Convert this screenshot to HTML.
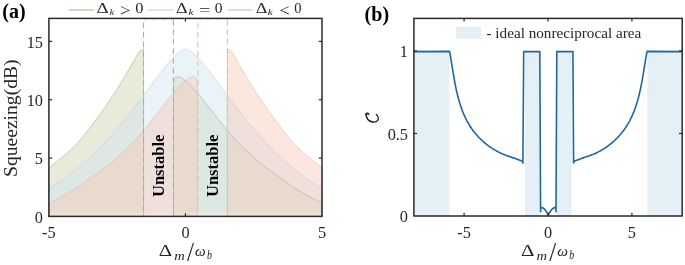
<!DOCTYPE html>
<html><head><meta charset="utf-8"><style>
html,body{margin:0;padding:0;background:#fff;width:685px;height:265px;overflow:hidden}
svg{display:block;will-change:transform}
text{font-family:"Liberation Serif",serif}
</style></head><body>
<svg width="685" height="265" viewBox="0 0 685 265">
<rect width="685" height="265" fill="#fff"/>
<polygon points="48.9,216.4 48.9,167.8 49.38,167.44 49.85,167.07 50.33,166.7 50.8,166.34 51.28,165.97 51.75,165.6 52.23,165.22 52.7,164.85 53.18,164.47 53.65,164.09 54.13,163.71 54.6,163.32 55.08,162.93 55.56,162.54 56.03,162.16 56.51,161.77 56.98,161.38 57.46,160.99 57.93,160.6 58.41,160.22 58.88,159.83 59.36,159.44 59.83,159.05 60.31,158.66 60.78,158.27 61.26,157.88 61.74,157.49 62.21,157.09 62.69,156.7 63.16,156.3 63.64,155.9 64.11,155.5 64.59,155.1 65.06,154.7 65.54,154.29 66.01,153.88 66.49,153.47 66.96,153.06 67.44,152.64 67.92,152.22 68.39,151.79 68.87,151.37 69.34,150.94 69.82,150.5 70.29,150.07 70.77,149.63 71.24,149.18 71.72,148.73 72.19,148.28 72.67,147.82 73.14,147.36 73.62,146.89 74.09,146.41 74.57,145.94 75.05,145.45 75.52,144.96 76,144.47 76.47,143.96 76.95,143.46 77.42,142.94 77.9,142.42 78.37,141.89 78.85,141.36 79.32,140.82 79.8,140.27 80.27,139.72 80.75,139.17 81.23,138.61 81.7,138.04 82.18,137.47 82.65,136.9 83.13,136.32 83.6,135.74 84.08,135.15 84.55,134.56 85.03,133.97 85.5,133.37 85.98,132.77 86.45,132.17 86.93,131.56 87.41,130.95 87.88,130.34 88.36,129.73 88.83,129.11 89.31,128.49 89.78,127.87 90.26,127.25 90.73,126.63 91.21,126 91.68,125.38 92.16,124.75 92.63,124.13 93.11,123.5 93.59,122.87 94.06,122.24 94.54,121.61 95.01,120.98 95.49,120.36 95.96,119.72 96.44,119.09 96.91,118.45 97.39,117.81 97.86,117.17 98.34,116.52 98.81,115.87 99.29,115.22 99.77,114.57 100.24,113.91 100.72,113.26 101.19,112.59 101.67,111.93 102.14,111.27 102.62,110.6 103.09,109.93 103.57,109.25 104.04,108.58 104.52,107.9 104.99,107.22 105.47,106.53 105.95,105.85 106.42,105.16 106.9,104.46 107.37,103.77 107.85,103.07 108.32,102.38 108.8,101.67 109.27,100.97 109.75,100.26 110.22,99.56 110.7,98.84 111.17,98.13 111.65,97.42 112.13,96.7 112.6,95.98 113.08,95.25 113.55,94.53 114.03,93.8 114.5,93.07 114.98,92.33 115.45,91.6 115.93,90.86 116.4,90.11 116.88,89.35 117.35,88.6 117.83,87.83 118.31,87.06 118.78,86.29 119.26,85.52 119.73,84.74 120.21,83.95 120.68,83.17 121.16,82.38 121.63,81.58 122.11,80.79 122.58,79.99 123.06,79.19 123.53,78.39 124.01,77.58 124.48,76.78 124.96,75.97 125.44,75.16 125.91,74.36 126.39,73.55 126.86,72.74 127.34,71.93 127.81,71.12 128.29,70.31 128.76,69.5 129.24,68.69 129.71,67.88 130.19,67.08 130.66,66.27 131.14,65.46 131.62,64.64 132.09,63.83 132.57,63.01 133.04,62.19 133.52,61.36 133.99,60.54 134.47,59.72 134.94,58.9 135.42,58.06 135.89,57.18 136.37,56.3 136.84,55.43 137.32,54.62 137.8,53.89 138.27,53.24 138.75,52.62 139.22,52.04 139.7,51.5 140.17,51.01 140.65,50.58 141.12,50.21 141.6,49.88 142.07,49.57 142.55,49.3 143.02,49.08 143.5,48.9 143.5,216.4" fill="rgb(204,208,173)" fill-opacity="0.45" stroke="none"/>
<polygon points="173.6,216.4 173.6,79.2 174.35,78.31 175.09,77.63 175.84,77.26 176.58,77 177.33,76.83 178.07,76.81 178.82,76.91 179.57,77.1 180.31,77.35 181.06,77.62 181.8,77.98 182.55,78.47 183.29,79.04 184.04,79.65 184.79,80.25 185.53,80.86 186.28,81.5 187.02,82.16 187.77,82.85 188.51,83.56 189.26,84.28 190.01,85.03 190.75,85.79 191.5,86.56 192.24,87.34 192.99,88.13 193.73,88.93 194.48,89.74 195.23,90.55 195.97,91.37 196.72,92.21 197.46,93.07 198.21,93.95 198.95,94.84 199.7,95.75 200.45,96.66 201.19,97.59 201.94,98.52 202.68,99.46 203.43,100.41 204.17,101.36 204.92,102.31 205.67,103.26 206.41,104.21 207.16,105.15 207.9,106.09 208.65,107.03 209.39,107.96 210.14,108.87 210.89,109.79 211.63,110.72 212.38,111.65 213.12,112.58 213.87,113.52 214.62,114.47 215.36,115.41 216.11,116.36 216.85,117.31 217.6,118.27 218.34,119.22 219.09,120.17 219.84,121.13 220.58,122.08 221.33,123.03 222.07,123.97 222.82,124.92 223.56,125.86 224.31,126.79 225.06,127.72 225.8,128.64 226.55,129.56 227.29,130.47 228.04,131.37 228.78,132.27 229.53,133.15 230.28,134.02 231.02,134.89 231.77,135.74 232.51,136.58 233.26,137.41 234,138.23 234.75,139.03 235.5,139.82 236.24,140.61 236.99,141.39 237.73,142.16 238.48,142.93 239.22,143.7 239.97,144.45 240.72,145.21 241.46,145.95 242.21,146.7 242.95,147.43 243.7,148.17 244.44,148.89 245.19,149.61 245.94,150.33 246.68,151.04 247.43,151.75 248.17,152.45 248.92,153.14 249.66,153.83 250.41,154.52 251.16,155.2 251.9,155.87 252.65,156.54 253.39,157.2 254.14,157.86 254.88,158.52 255.63,159.17 256.38,159.81 257.12,160.45 257.87,161.08 258.61,161.71 259.36,162.33 260.1,162.95 260.85,163.56 261.6,164.17 262.34,164.77 263.09,165.37 263.83,165.95 264.58,166.52 265.32,167.08 266.07,167.64 266.82,168.19 267.56,168.73 268.31,169.27 269.05,169.8 269.8,170.33 270.54,170.86 271.29,171.38 272.04,171.91 272.78,172.43 273.53,172.96 274.27,173.48 275.02,174.01 275.76,174.55 276.51,175.08 277.26,175.61 278,176.15 278.75,176.68 279.49,177.22 280.24,177.76 280.98,178.29 281.73,178.83 282.48,179.36 283.22,179.9 283.97,180.43 284.71,180.97 285.46,181.5 286.21,182.03 286.95,182.56 287.7,183.08 288.44,183.61 289.19,184.13 289.93,184.65 290.68,185.16 291.43,185.68 292.17,186.19 292.92,186.69 293.66,187.2 294.41,187.7 295.15,188.19 295.9,188.68 296.65,189.17 297.39,189.65 298.14,190.13 298.88,190.6 299.63,191.07 300.37,191.53 301.12,191.99 301.87,192.44 302.61,192.89 303.36,193.33 304.1,193.77 304.85,194.2 305.59,194.63 306.34,195.05 307.09,195.47 307.83,195.89 308.58,196.3 309.32,196.7 310.07,197.1 310.81,197.5 311.56,197.89 312.31,198.28 313.05,198.67 313.8,199.05 314.54,199.43 315.29,199.81 316.03,200.18 316.78,200.55 317.53,200.91 318.27,201.27 319.02,201.62 319.76,201.97 320.51,202.32 321.25,202.66 322,203 322,216.4" fill="rgb(204,208,173)" fill-opacity="0.45" stroke="none"/>
<polygon points="48.9,216.4 48.9,188.82 49.81,188.25 50.73,187.67 51.64,187.09 52.55,186.5 53.47,185.91 54.38,185.32 55.29,184.72 56.21,184.11 57.12,183.5 58.03,182.88 58.95,182.26 59.86,181.63 60.77,180.99 61.69,180.35 62.6,179.71 63.51,179.06 64.43,178.4 65.34,177.74 66.25,177.07 67.17,176.39 68.08,175.71 68.99,175.02 69.91,174.33 70.82,173.63 71.73,172.93 72.65,172.22 73.56,171.5 74.47,170.77 75.39,170.04 76.3,169.31 77.21,168.56 78.13,167.81 79.04,167.05 79.95,166.29 80.87,165.52 81.78,164.74 82.69,163.96 83.61,163.17 84.52,162.37 85.44,161.57 86.35,160.76 87.26,159.94 88.18,159.11 89.09,158.28 90,157.44 90.92,156.59 91.83,155.74 92.74,154.87 93.66,154 94.57,153.13 95.48,152.24 96.4,151.35 97.31,150.45 98.22,149.55 99.14,148.63 100.05,147.71 100.96,146.78 101.88,145.84 102.79,144.9 103.7,143.95 104.62,142.99 105.53,142.02 106.44,141.04 107.36,140.06 108.27,139.07 109.18,138.07 110.1,137.06 111.01,136.05 111.92,135.03 112.84,134 113.75,132.96 114.66,131.91 115.58,130.86 116.49,129.8 117.4,128.73 118.32,127.66 119.23,126.58 120.14,125.49 121.06,124.39 121.97,123.28 122.88,122.17 123.8,121.05 124.71,119.93 125.62,118.8 126.54,117.66 127.45,116.51 128.36,115.36 129.28,114.2 130.19,113.04 131.1,111.86 132.02,110.69 132.93,109.5 133.84,108.32 134.76,107.12 135.67,105.92 136.58,104.72 137.5,103.51 138.41,102.3 139.32,101.08 140.24,99.86 141.15,98.64 142.06,97.41 142.98,96.18 143.89,94.95 144.8,93.72 145.72,92.48 146.63,91.24 147.54,90 148.46,88.76 149.37,87.53 150.28,86.29 151.2,85.05 152.11,83.82 153.03,82.58 153.94,81.35 154.85,80.13 155.77,78.91 156.68,77.69 157.59,76.48 158.51,75.28 159.42,74.08 160.33,72.89 161.25,71.71 162.16,70.54 163.07,69.38 163.99,68.24 164.9,67.1 165.81,65.99 166.73,64.88 167.64,63.8 168.55,62.73 169.47,61.68 170.38,60.66 171.29,59.65 172.21,58.67 173.12,57.72 174.03,56.8 174.95,55.9 175.86,55.05 176.77,54.22 177.69,53.44 178.6,52.69 179.51,52 180.43,51.35 181.34,50.76 182.25,50.23 183.17,49.78 184.08,49.41 184.99,49.15 185.91,49.15 186.82,49.41 187.73,49.78 188.65,50.23 189.56,50.76 190.47,51.35 191.39,52 192.3,52.69 193.21,53.44 194.13,54.22 195.04,55.05 195.95,55.9 196.87,56.8 197.78,57.72 198.69,58.67 199.61,59.65 200.52,60.66 201.43,61.68 202.35,62.73 203.26,63.8 204.17,64.88 205.09,65.99 206,67.1 206.91,68.24 207.83,69.38 208.74,70.54 209.65,71.71 210.57,72.89 211.48,74.08 212.39,75.28 213.31,76.48 214.22,77.69 215.13,78.91 216.05,80.13 216.96,81.35 217.87,82.58 218.79,83.82 219.7,85.05 220.62,86.29 221.53,87.53 222.44,88.76 223.36,90 224.27,91.24 225.18,92.48 226.1,93.72 227.01,94.95 227.92,96.18 228.84,97.41 229.75,98.64 230.66,99.86 231.58,101.08 232.49,102.3 233.4,103.51 234.32,104.72 235.23,105.92 236.14,107.12 237.06,108.32 237.97,109.5 238.88,110.69 239.8,111.86 240.71,113.04 241.62,114.2 242.54,115.36 243.45,116.51 244.36,117.66 245.28,118.8 246.19,119.93 247.1,121.05 248.02,122.17 248.93,123.28 249.84,124.39 250.76,125.49 251.67,126.58 252.58,127.66 253.5,128.73 254.41,129.8 255.32,130.86 256.24,131.91 257.15,132.96 258.06,134 258.98,135.03 259.89,136.05 260.8,137.06 261.72,138.07 262.63,139.07 263.54,140.06 264.46,141.04 265.37,142.02 266.28,142.99 267.2,143.95 268.11,144.9 269.02,145.84 269.94,146.78 270.85,147.71 271.76,148.63 272.68,149.55 273.59,150.45 274.5,151.35 275.42,152.24 276.33,153.13 277.24,154 278.16,154.87 279.07,155.74 279.98,156.59 280.9,157.44 281.81,158.28 282.72,159.11 283.64,159.94 284.55,160.76 285.46,161.57 286.38,162.37 287.29,163.17 288.21,163.96 289.12,164.74 290.03,165.52 290.95,166.29 291.86,167.05 292.77,167.81 293.69,168.56 294.6,169.31 295.51,170.04 296.43,170.77 297.34,171.5 298.25,172.22 299.17,172.93 300.08,173.63 300.99,174.33 301.91,175.02 302.82,175.71 303.73,176.39 304.65,177.07 305.56,177.74 306.47,178.4 307.39,179.06 308.3,179.71 309.21,180.35 310.13,180.99 311.04,181.63 311.95,182.26 312.87,182.88 313.78,183.5 314.69,184.11 315.61,184.72 316.52,185.32 317.43,185.91 318.35,186.5 319.26,187.09 320.17,187.67 321.09,188.25 322,188.82 322,216.4" fill="rgb(208,228,237)" fill-opacity="0.45" stroke="none"/>
<polygon points="48.9,216.4 48.9,203 49.65,202.66 50.39,202.32 51.14,201.97 51.88,201.62 52.63,201.27 53.37,200.91 54.12,200.55 54.87,200.18 55.61,199.81 56.36,199.43 57.1,199.05 57.85,198.67 58.59,198.28 59.34,197.89 60.09,197.5 60.83,197.1 61.58,196.7 62.32,196.3 63.07,195.89 63.81,195.47 64.56,195.05 65.31,194.63 66.05,194.2 66.8,193.77 67.54,193.33 68.29,192.89 69.03,192.44 69.78,191.99 70.53,191.53 71.27,191.07 72.02,190.6 72.76,190.13 73.51,189.65 74.25,189.17 75,188.68 75.75,188.19 76.49,187.7 77.24,187.2 77.98,186.69 78.73,186.19 79.47,185.68 80.22,185.16 80.97,184.65 81.71,184.13 82.46,183.61 83.2,183.08 83.95,182.56 84.69,182.03 85.44,181.5 86.19,180.97 86.93,180.43 87.68,179.9 88.42,179.36 89.17,178.83 89.92,178.29 90.66,177.76 91.41,177.22 92.15,176.68 92.9,176.15 93.64,175.61 94.39,175.08 95.14,174.55 95.88,174.01 96.63,173.48 97.37,172.96 98.12,172.43 98.86,171.91 99.61,171.38 100.36,170.86 101.1,170.33 101.85,169.8 102.59,169.27 103.34,168.73 104.08,168.19 104.83,167.64 105.58,167.08 106.32,166.52 107.07,165.95 107.81,165.37 108.56,164.77 109.3,164.17 110.05,163.56 110.8,162.95 111.54,162.33 112.29,161.71 113.03,161.08 113.78,160.45 114.52,159.81 115.27,159.17 116.02,158.52 116.76,157.86 117.51,157.2 118.25,156.54 119,155.87 119.74,155.2 120.49,154.52 121.24,153.83 121.98,153.14 122.73,152.45 123.47,151.75 124.22,151.04 124.96,150.33 125.71,149.61 126.46,148.89 127.2,148.17 127.95,147.43 128.69,146.7 129.44,145.95 130.18,145.21 130.93,144.45 131.68,143.7 132.42,142.93 133.17,142.16 133.91,141.39 134.66,140.61 135.4,139.82 136.15,139.03 136.9,138.23 137.64,137.41 138.39,136.58 139.13,135.74 139.88,134.89 140.62,134.02 141.37,133.15 142.12,132.27 142.86,131.37 143.61,130.47 144.35,129.56 145.1,128.64 145.84,127.72 146.59,126.79 147.34,125.86 148.08,124.92 148.83,123.97 149.57,123.03 150.32,122.08 151.06,121.13 151.81,120.17 152.56,119.22 153.3,118.27 154.05,117.31 154.79,116.36 155.54,115.41 156.28,114.47 157.03,113.52 157.78,112.58 158.52,111.65 159.27,110.72 160.01,109.79 160.76,108.87 161.51,107.96 162.25,107.03 163,106.09 163.74,105.15 164.49,104.21 165.23,103.26 165.98,102.31 166.73,101.36 167.47,100.41 168.22,99.46 168.96,98.52 169.71,97.59 170.45,96.66 171.2,95.75 171.95,94.84 172.69,93.95 173.44,93.07 174.18,92.21 174.93,91.37 175.67,90.55 176.42,89.74 177.17,88.93 177.91,88.13 178.66,87.34 179.4,86.56 180.15,85.79 180.89,85.03 181.64,84.28 182.39,83.56 183.13,82.85 183.88,82.16 184.62,81.5 185.37,80.86 186.11,80.25 186.86,79.65 187.61,79.04 188.35,78.47 189.1,77.98 189.84,77.62 190.59,77.35 191.33,77.1 192.08,76.91 192.83,76.81 193.57,76.83 194.32,77 195.06,77.26 195.81,77.63 196.55,78.31 197.3,79.2 197.3,216.4" fill="rgb(248,202,184)" fill-opacity="0.45" stroke="none"/>
<polygon points="227.4,216.4 227.4,48.9 227.88,49.08 228.35,49.3 228.83,49.57 229.3,49.88 229.78,50.21 230.25,50.58 230.73,51.01 231.2,51.5 231.68,52.04 232.15,52.62 232.63,53.24 233.1,53.89 233.58,54.62 234.06,55.43 234.53,56.3 235.01,57.18 235.48,58.06 235.96,58.9 236.43,59.72 236.91,60.54 237.38,61.36 237.86,62.19 238.33,63.01 238.81,63.83 239.28,64.64 239.76,65.46 240.24,66.27 240.71,67.08 241.19,67.88 241.66,68.69 242.14,69.5 242.61,70.31 243.09,71.12 243.56,71.93 244.04,72.74 244.51,73.55 244.99,74.36 245.46,75.16 245.94,75.97 246.42,76.78 246.89,77.58 247.37,78.39 247.84,79.19 248.32,79.99 248.79,80.79 249.27,81.58 249.74,82.38 250.22,83.17 250.69,83.95 251.17,84.74 251.64,85.52 252.12,86.29 252.59,87.06 253.07,87.83 253.55,88.6 254.02,89.35 254.5,90.11 254.97,90.86 255.45,91.6 255.92,92.33 256.4,93.07 256.87,93.8 257.35,94.53 257.82,95.25 258.3,95.98 258.77,96.7 259.25,97.42 259.73,98.13 260.2,98.84 260.68,99.56 261.15,100.26 261.63,100.97 262.1,101.67 262.58,102.38 263.05,103.07 263.53,103.77 264,104.46 264.48,105.16 264.95,105.85 265.43,106.53 265.91,107.22 266.38,107.9 266.86,108.58 267.33,109.25 267.81,109.93 268.28,110.6 268.76,111.27 269.23,111.93 269.71,112.59 270.18,113.26 270.66,113.91 271.13,114.57 271.61,115.22 272.09,115.87 272.56,116.52 273.04,117.17 273.51,117.81 273.99,118.45 274.46,119.09 274.94,119.72 275.41,120.36 275.89,120.98 276.36,121.61 276.84,122.24 277.31,122.87 277.79,123.5 278.27,124.13 278.74,124.75 279.22,125.38 279.69,126 280.17,126.63 280.64,127.25 281.12,127.87 281.59,128.49 282.07,129.11 282.54,129.73 283.02,130.34 283.49,130.95 283.97,131.56 284.45,132.17 284.92,132.77 285.4,133.37 285.87,133.97 286.35,134.56 286.82,135.15 287.3,135.74 287.77,136.32 288.25,136.9 288.72,137.47 289.2,138.04 289.67,138.61 290.15,139.17 290.63,139.72 291.1,140.27 291.58,140.82 292.05,141.36 292.53,141.89 293,142.42 293.48,142.94 293.95,143.46 294.43,143.96 294.9,144.47 295.38,144.96 295.85,145.45 296.33,145.94 296.81,146.41 297.28,146.89 297.76,147.36 298.23,147.82 298.71,148.28 299.18,148.73 299.66,149.18 300.13,149.63 300.61,150.07 301.08,150.5 301.56,150.94 302.03,151.37 302.51,151.79 302.98,152.22 303.46,152.64 303.94,153.06 304.41,153.47 304.89,153.88 305.36,154.29 305.84,154.7 306.31,155.1 306.79,155.5 307.26,155.9 307.74,156.3 308.21,156.7 308.69,157.09 309.16,157.49 309.64,157.88 310.12,158.27 310.59,158.66 311.07,159.05 311.54,159.44 312.02,159.83 312.49,160.22 312.97,160.6 313.44,160.99 313.92,161.38 314.39,161.77 314.87,162.16 315.34,162.54 315.82,162.93 316.3,163.32 316.77,163.71 317.25,164.09 317.72,164.47 318.2,164.85 318.67,165.22 319.15,165.6 319.62,165.97 320.1,166.34 320.57,166.7 321.05,167.07 321.52,167.44 322,167.8 322,216.4" fill="rgb(248,202,184)" fill-opacity="0.45" stroke="none"/>
<polyline points="48.9,216.4 48.9,167.8 49.38,167.44 49.85,167.07 50.33,166.7 50.8,166.34 51.28,165.97 51.75,165.6 52.23,165.22 52.7,164.85 53.18,164.47 53.65,164.09 54.13,163.71 54.6,163.32 55.08,162.93 55.56,162.54 56.03,162.16 56.51,161.77 56.98,161.38 57.46,160.99 57.93,160.6 58.41,160.22 58.88,159.83 59.36,159.44 59.83,159.05 60.31,158.66 60.78,158.27 61.26,157.88 61.74,157.49 62.21,157.09 62.69,156.7 63.16,156.3 63.64,155.9 64.11,155.5 64.59,155.1 65.06,154.7 65.54,154.29 66.01,153.88 66.49,153.47 66.96,153.06 67.44,152.64 67.92,152.22 68.39,151.79 68.87,151.37 69.34,150.94 69.82,150.5 70.29,150.07 70.77,149.63 71.24,149.18 71.72,148.73 72.19,148.28 72.67,147.82 73.14,147.36 73.62,146.89 74.09,146.41 74.57,145.94 75.05,145.45 75.52,144.96 76,144.47 76.47,143.96 76.95,143.46 77.42,142.94 77.9,142.42 78.37,141.89 78.85,141.36 79.32,140.82 79.8,140.27 80.27,139.72 80.75,139.17 81.23,138.61 81.7,138.04 82.18,137.47 82.65,136.9 83.13,136.32 83.6,135.74 84.08,135.15 84.55,134.56 85.03,133.97 85.5,133.37 85.98,132.77 86.45,132.17 86.93,131.56 87.41,130.95 87.88,130.34 88.36,129.73 88.83,129.11 89.31,128.49 89.78,127.87 90.26,127.25 90.73,126.63 91.21,126 91.68,125.38 92.16,124.75 92.63,124.13 93.11,123.5 93.59,122.87 94.06,122.24 94.54,121.61 95.01,120.98 95.49,120.36 95.96,119.72 96.44,119.09 96.91,118.45 97.39,117.81 97.86,117.17 98.34,116.52 98.81,115.87 99.29,115.22 99.77,114.57 100.24,113.91 100.72,113.26 101.19,112.59 101.67,111.93 102.14,111.27 102.62,110.6 103.09,109.93 103.57,109.25 104.04,108.58 104.52,107.9 104.99,107.22 105.47,106.53 105.95,105.85 106.42,105.16 106.9,104.46 107.37,103.77 107.85,103.07 108.32,102.38 108.8,101.67 109.27,100.97 109.75,100.26 110.22,99.56 110.7,98.84 111.17,98.13 111.65,97.42 112.13,96.7 112.6,95.98 113.08,95.25 113.55,94.53 114.03,93.8 114.5,93.07 114.98,92.33 115.45,91.6 115.93,90.86 116.4,90.11 116.88,89.35 117.35,88.6 117.83,87.83 118.31,87.06 118.78,86.29 119.26,85.52 119.73,84.74 120.21,83.95 120.68,83.17 121.16,82.38 121.63,81.58 122.11,80.79 122.58,79.99 123.06,79.19 123.53,78.39 124.01,77.58 124.48,76.78 124.96,75.97 125.44,75.16 125.91,74.36 126.39,73.55 126.86,72.74 127.34,71.93 127.81,71.12 128.29,70.31 128.76,69.5 129.24,68.69 129.71,67.88 130.19,67.08 130.66,66.27 131.14,65.46 131.62,64.64 132.09,63.83 132.57,63.01 133.04,62.19 133.52,61.36 133.99,60.54 134.47,59.72 134.94,58.9 135.42,58.06 135.89,57.18 136.37,56.3 136.84,55.43 137.32,54.62 137.8,53.89 138.27,53.24 138.75,52.62 139.22,52.04 139.7,51.5 140.17,51.01 140.65,50.58 141.12,50.21 141.6,49.88 142.07,49.57 142.55,49.3 143.02,49.08 143.5,48.9 143.5,216.4" fill="none" stroke="rgb(172,178,142)" stroke-opacity="0.65" stroke-width="1"/>
<polyline points="173.6,216.4 173.6,79.2 174.35,78.31 175.09,77.63 175.84,77.26 176.58,77 177.33,76.83 178.07,76.81 178.82,76.91 179.57,77.1 180.31,77.35 181.06,77.62 181.8,77.98 182.55,78.47 183.29,79.04 184.04,79.65 184.79,80.25 185.53,80.86 186.28,81.5 187.02,82.16 187.77,82.85 188.51,83.56 189.26,84.28 190.01,85.03 190.75,85.79 191.5,86.56 192.24,87.34 192.99,88.13 193.73,88.93 194.48,89.74 195.23,90.55 195.97,91.37 196.72,92.21 197.46,93.07 198.21,93.95 198.95,94.84 199.7,95.75 200.45,96.66 201.19,97.59 201.94,98.52 202.68,99.46 203.43,100.41 204.17,101.36 204.92,102.31 205.67,103.26 206.41,104.21 207.16,105.15 207.9,106.09 208.65,107.03 209.39,107.96 210.14,108.87 210.89,109.79 211.63,110.72 212.38,111.65 213.12,112.58 213.87,113.52 214.62,114.47 215.36,115.41 216.11,116.36 216.85,117.31 217.6,118.27 218.34,119.22 219.09,120.17 219.84,121.13 220.58,122.08 221.33,123.03 222.07,123.97 222.82,124.92 223.56,125.86 224.31,126.79 225.06,127.72 225.8,128.64 226.55,129.56 227.29,130.47 228.04,131.37 228.78,132.27 229.53,133.15 230.28,134.02 231.02,134.89 231.77,135.74 232.51,136.58 233.26,137.41 234,138.23 234.75,139.03 235.5,139.82 236.24,140.61 236.99,141.39 237.73,142.16 238.48,142.93 239.22,143.7 239.97,144.45 240.72,145.21 241.46,145.95 242.21,146.7 242.95,147.43 243.7,148.17 244.44,148.89 245.19,149.61 245.94,150.33 246.68,151.04 247.43,151.75 248.17,152.45 248.92,153.14 249.66,153.83 250.41,154.52 251.16,155.2 251.9,155.87 252.65,156.54 253.39,157.2 254.14,157.86 254.88,158.52 255.63,159.17 256.38,159.81 257.12,160.45 257.87,161.08 258.61,161.71 259.36,162.33 260.1,162.95 260.85,163.56 261.6,164.17 262.34,164.77 263.09,165.37 263.83,165.95 264.58,166.52 265.32,167.08 266.07,167.64 266.82,168.19 267.56,168.73 268.31,169.27 269.05,169.8 269.8,170.33 270.54,170.86 271.29,171.38 272.04,171.91 272.78,172.43 273.53,172.96 274.27,173.48 275.02,174.01 275.76,174.55 276.51,175.08 277.26,175.61 278,176.15 278.75,176.68 279.49,177.22 280.24,177.76 280.98,178.29 281.73,178.83 282.48,179.36 283.22,179.9 283.97,180.43 284.71,180.97 285.46,181.5 286.21,182.03 286.95,182.56 287.7,183.08 288.44,183.61 289.19,184.13 289.93,184.65 290.68,185.16 291.43,185.68 292.17,186.19 292.92,186.69 293.66,187.2 294.41,187.7 295.15,188.19 295.9,188.68 296.65,189.17 297.39,189.65 298.14,190.13 298.88,190.6 299.63,191.07 300.37,191.53 301.12,191.99 301.87,192.44 302.61,192.89 303.36,193.33 304.1,193.77 304.85,194.2 305.59,194.63 306.34,195.05 307.09,195.47 307.83,195.89 308.58,196.3 309.32,196.7 310.07,197.1 310.81,197.5 311.56,197.89 312.31,198.28 313.05,198.67 313.8,199.05 314.54,199.43 315.29,199.81 316.03,200.18 316.78,200.55 317.53,200.91 318.27,201.27 319.02,201.62 319.76,201.97 320.51,202.32 321.25,202.66 322,203 322,216.4" fill="none" stroke="rgb(172,178,142)" stroke-opacity="0.65" stroke-width="1"/>
<polyline points="48.9,216.4 48.9,188.82 49.81,188.25 50.73,187.67 51.64,187.09 52.55,186.5 53.47,185.91 54.38,185.32 55.29,184.72 56.21,184.11 57.12,183.5 58.03,182.88 58.95,182.26 59.86,181.63 60.77,180.99 61.69,180.35 62.6,179.71 63.51,179.06 64.43,178.4 65.34,177.74 66.25,177.07 67.17,176.39 68.08,175.71 68.99,175.02 69.91,174.33 70.82,173.63 71.73,172.93 72.65,172.22 73.56,171.5 74.47,170.77 75.39,170.04 76.3,169.31 77.21,168.56 78.13,167.81 79.04,167.05 79.95,166.29 80.87,165.52 81.78,164.74 82.69,163.96 83.61,163.17 84.52,162.37 85.44,161.57 86.35,160.76 87.26,159.94 88.18,159.11 89.09,158.28 90,157.44 90.92,156.59 91.83,155.74 92.74,154.87 93.66,154 94.57,153.13 95.48,152.24 96.4,151.35 97.31,150.45 98.22,149.55 99.14,148.63 100.05,147.71 100.96,146.78 101.88,145.84 102.79,144.9 103.7,143.95 104.62,142.99 105.53,142.02 106.44,141.04 107.36,140.06 108.27,139.07 109.18,138.07 110.1,137.06 111.01,136.05 111.92,135.03 112.84,134 113.75,132.96 114.66,131.91 115.58,130.86 116.49,129.8 117.4,128.73 118.32,127.66 119.23,126.58 120.14,125.49 121.06,124.39 121.97,123.28 122.88,122.17 123.8,121.05 124.71,119.93 125.62,118.8 126.54,117.66 127.45,116.51 128.36,115.36 129.28,114.2 130.19,113.04 131.1,111.86 132.02,110.69 132.93,109.5 133.84,108.32 134.76,107.12 135.67,105.92 136.58,104.72 137.5,103.51 138.41,102.3 139.32,101.08 140.24,99.86 141.15,98.64 142.06,97.41 142.98,96.18 143.89,94.95 144.8,93.72 145.72,92.48 146.63,91.24 147.54,90 148.46,88.76 149.37,87.53 150.28,86.29 151.2,85.05 152.11,83.82 153.03,82.58 153.94,81.35 154.85,80.13 155.77,78.91 156.68,77.69 157.59,76.48 158.51,75.28 159.42,74.08 160.33,72.89 161.25,71.71 162.16,70.54 163.07,69.38 163.99,68.24 164.9,67.1 165.81,65.99 166.73,64.88 167.64,63.8 168.55,62.73 169.47,61.68 170.38,60.66 171.29,59.65 172.21,58.67 173.12,57.72 174.03,56.8 174.95,55.9 175.86,55.05 176.77,54.22 177.69,53.44 178.6,52.69 179.51,52 180.43,51.35 181.34,50.76 182.25,50.23 183.17,49.78 184.08,49.41 184.99,49.15 185.91,49.15 186.82,49.41 187.73,49.78 188.65,50.23 189.56,50.76 190.47,51.35 191.39,52 192.3,52.69 193.21,53.44 194.13,54.22 195.04,55.05 195.95,55.9 196.87,56.8 197.78,57.72 198.69,58.67 199.61,59.65 200.52,60.66 201.43,61.68 202.35,62.73 203.26,63.8 204.17,64.88 205.09,65.99 206,67.1 206.91,68.24 207.83,69.38 208.74,70.54 209.65,71.71 210.57,72.89 211.48,74.08 212.39,75.28 213.31,76.48 214.22,77.69 215.13,78.91 216.05,80.13 216.96,81.35 217.87,82.58 218.79,83.82 219.7,85.05 220.62,86.29 221.53,87.53 222.44,88.76 223.36,90 224.27,91.24 225.18,92.48 226.1,93.72 227.01,94.95 227.92,96.18 228.84,97.41 229.75,98.64 230.66,99.86 231.58,101.08 232.49,102.3 233.4,103.51 234.32,104.72 235.23,105.92 236.14,107.12 237.06,108.32 237.97,109.5 238.88,110.69 239.8,111.86 240.71,113.04 241.62,114.2 242.54,115.36 243.45,116.51 244.36,117.66 245.28,118.8 246.19,119.93 247.1,121.05 248.02,122.17 248.93,123.28 249.84,124.39 250.76,125.49 251.67,126.58 252.58,127.66 253.5,128.73 254.41,129.8 255.32,130.86 256.24,131.91 257.15,132.96 258.06,134 258.98,135.03 259.89,136.05 260.8,137.06 261.72,138.07 262.63,139.07 263.54,140.06 264.46,141.04 265.37,142.02 266.28,142.99 267.2,143.95 268.11,144.9 269.02,145.84 269.94,146.78 270.85,147.71 271.76,148.63 272.68,149.55 273.59,150.45 274.5,151.35 275.42,152.24 276.33,153.13 277.24,154 278.16,154.87 279.07,155.74 279.98,156.59 280.9,157.44 281.81,158.28 282.72,159.11 283.64,159.94 284.55,160.76 285.46,161.57 286.38,162.37 287.29,163.17 288.21,163.96 289.12,164.74 290.03,165.52 290.95,166.29 291.86,167.05 292.77,167.81 293.69,168.56 294.6,169.31 295.51,170.04 296.43,170.77 297.34,171.5 298.25,172.22 299.17,172.93 300.08,173.63 300.99,174.33 301.91,175.02 302.82,175.71 303.73,176.39 304.65,177.07 305.56,177.74 306.47,178.4 307.39,179.06 308.3,179.71 309.21,180.35 310.13,180.99 311.04,181.63 311.95,182.26 312.87,182.88 313.78,183.5 314.69,184.11 315.61,184.72 316.52,185.32 317.43,185.91 318.35,186.5 319.26,187.09 320.17,187.67 321.09,188.25 322,188.82 322,216.4" fill="none" stroke="rgb(188,208,220)" stroke-opacity="0.65" stroke-width="1"/>
<polyline points="48.9,216.4 48.9,203 49.65,202.66 50.39,202.32 51.14,201.97 51.88,201.62 52.63,201.27 53.37,200.91 54.12,200.55 54.87,200.18 55.61,199.81 56.36,199.43 57.1,199.05 57.85,198.67 58.59,198.28 59.34,197.89 60.09,197.5 60.83,197.1 61.58,196.7 62.32,196.3 63.07,195.89 63.81,195.47 64.56,195.05 65.31,194.63 66.05,194.2 66.8,193.77 67.54,193.33 68.29,192.89 69.03,192.44 69.78,191.99 70.53,191.53 71.27,191.07 72.02,190.6 72.76,190.13 73.51,189.65 74.25,189.17 75,188.68 75.75,188.19 76.49,187.7 77.24,187.2 77.98,186.69 78.73,186.19 79.47,185.68 80.22,185.16 80.97,184.65 81.71,184.13 82.46,183.61 83.2,183.08 83.95,182.56 84.69,182.03 85.44,181.5 86.19,180.97 86.93,180.43 87.68,179.9 88.42,179.36 89.17,178.83 89.92,178.29 90.66,177.76 91.41,177.22 92.15,176.68 92.9,176.15 93.64,175.61 94.39,175.08 95.14,174.55 95.88,174.01 96.63,173.48 97.37,172.96 98.12,172.43 98.86,171.91 99.61,171.38 100.36,170.86 101.1,170.33 101.85,169.8 102.59,169.27 103.34,168.73 104.08,168.19 104.83,167.64 105.58,167.08 106.32,166.52 107.07,165.95 107.81,165.37 108.56,164.77 109.3,164.17 110.05,163.56 110.8,162.95 111.54,162.33 112.29,161.71 113.03,161.08 113.78,160.45 114.52,159.81 115.27,159.17 116.02,158.52 116.76,157.86 117.51,157.2 118.25,156.54 119,155.87 119.74,155.2 120.49,154.52 121.24,153.83 121.98,153.14 122.73,152.45 123.47,151.75 124.22,151.04 124.96,150.33 125.71,149.61 126.46,148.89 127.2,148.17 127.95,147.43 128.69,146.7 129.44,145.95 130.18,145.21 130.93,144.45 131.68,143.7 132.42,142.93 133.17,142.16 133.91,141.39 134.66,140.61 135.4,139.82 136.15,139.03 136.9,138.23 137.64,137.41 138.39,136.58 139.13,135.74 139.88,134.89 140.62,134.02 141.37,133.15 142.12,132.27 142.86,131.37 143.61,130.47 144.35,129.56 145.1,128.64 145.84,127.72 146.59,126.79 147.34,125.86 148.08,124.92 148.83,123.97 149.57,123.03 150.32,122.08 151.06,121.13 151.81,120.17 152.56,119.22 153.3,118.27 154.05,117.31 154.79,116.36 155.54,115.41 156.28,114.47 157.03,113.52 157.78,112.58 158.52,111.65 159.27,110.72 160.01,109.79 160.76,108.87 161.51,107.96 162.25,107.03 163,106.09 163.74,105.15 164.49,104.21 165.23,103.26 165.98,102.31 166.73,101.36 167.47,100.41 168.22,99.46 168.96,98.52 169.71,97.59 170.45,96.66 171.2,95.75 171.95,94.84 172.69,93.95 173.44,93.07 174.18,92.21 174.93,91.37 175.67,90.55 176.42,89.74 177.17,88.93 177.91,88.13 178.66,87.34 179.4,86.56 180.15,85.79 180.89,85.03 181.64,84.28 182.39,83.56 183.13,82.85 183.88,82.16 184.62,81.5 185.37,80.86 186.11,80.25 186.86,79.65 187.61,79.04 188.35,78.47 189.1,77.98 189.84,77.62 190.59,77.35 191.33,77.1 192.08,76.91 192.83,76.81 193.57,76.83 194.32,77 195.06,77.26 195.81,77.63 196.55,78.31 197.3,79.2 197.3,216.4" fill="none" stroke="rgb(222,184,176)" stroke-opacity="0.65" stroke-width="1"/>
<polyline points="227.4,216.4 227.4,48.9 227.88,49.08 228.35,49.3 228.83,49.57 229.3,49.88 229.78,50.21 230.25,50.58 230.73,51.01 231.2,51.5 231.68,52.04 232.15,52.62 232.63,53.24 233.1,53.89 233.58,54.62 234.06,55.43 234.53,56.3 235.01,57.18 235.48,58.06 235.96,58.9 236.43,59.72 236.91,60.54 237.38,61.36 237.86,62.19 238.33,63.01 238.81,63.83 239.28,64.64 239.76,65.46 240.24,66.27 240.71,67.08 241.19,67.88 241.66,68.69 242.14,69.5 242.61,70.31 243.09,71.12 243.56,71.93 244.04,72.74 244.51,73.55 244.99,74.36 245.46,75.16 245.94,75.97 246.42,76.78 246.89,77.58 247.37,78.39 247.84,79.19 248.32,79.99 248.79,80.79 249.27,81.58 249.74,82.38 250.22,83.17 250.69,83.95 251.17,84.74 251.64,85.52 252.12,86.29 252.59,87.06 253.07,87.83 253.55,88.6 254.02,89.35 254.5,90.11 254.97,90.86 255.45,91.6 255.92,92.33 256.4,93.07 256.87,93.8 257.35,94.53 257.82,95.25 258.3,95.98 258.77,96.7 259.25,97.42 259.73,98.13 260.2,98.84 260.68,99.56 261.15,100.26 261.63,100.97 262.1,101.67 262.58,102.38 263.05,103.07 263.53,103.77 264,104.46 264.48,105.16 264.95,105.85 265.43,106.53 265.91,107.22 266.38,107.9 266.86,108.58 267.33,109.25 267.81,109.93 268.28,110.6 268.76,111.27 269.23,111.93 269.71,112.59 270.18,113.26 270.66,113.91 271.13,114.57 271.61,115.22 272.09,115.87 272.56,116.52 273.04,117.17 273.51,117.81 273.99,118.45 274.46,119.09 274.94,119.72 275.41,120.36 275.89,120.98 276.36,121.61 276.84,122.24 277.31,122.87 277.79,123.5 278.27,124.13 278.74,124.75 279.22,125.38 279.69,126 280.17,126.63 280.64,127.25 281.12,127.87 281.59,128.49 282.07,129.11 282.54,129.73 283.02,130.34 283.49,130.95 283.97,131.56 284.45,132.17 284.92,132.77 285.4,133.37 285.87,133.97 286.35,134.56 286.82,135.15 287.3,135.74 287.77,136.32 288.25,136.9 288.72,137.47 289.2,138.04 289.67,138.61 290.15,139.17 290.63,139.72 291.1,140.27 291.58,140.82 292.05,141.36 292.53,141.89 293,142.42 293.48,142.94 293.95,143.46 294.43,143.96 294.9,144.47 295.38,144.96 295.85,145.45 296.33,145.94 296.81,146.41 297.28,146.89 297.76,147.36 298.23,147.82 298.71,148.28 299.18,148.73 299.66,149.18 300.13,149.63 300.61,150.07 301.08,150.5 301.56,150.94 302.03,151.37 302.51,151.79 302.98,152.22 303.46,152.64 303.94,153.06 304.41,153.47 304.89,153.88 305.36,154.29 305.84,154.7 306.31,155.1 306.79,155.5 307.26,155.9 307.74,156.3 308.21,156.7 308.69,157.09 309.16,157.49 309.64,157.88 310.12,158.27 310.59,158.66 311.07,159.05 311.54,159.44 312.02,159.83 312.49,160.22 312.97,160.6 313.44,160.99 313.92,161.38 314.39,161.77 314.87,162.16 315.34,162.54 315.82,162.93 316.3,163.32 316.77,163.71 317.25,164.09 317.72,164.47 318.2,164.85 318.67,165.22 319.15,165.6 319.62,165.97 320.1,166.34 320.57,166.7 321.05,167.07 321.52,167.44 322,167.8 322,216.4" fill="none" stroke="rgb(222,184,176)" stroke-opacity="0.65" stroke-width="1"/>
<rect x="49.6" y="212.6" width="93.9" height="3.0" fill="rgb(236,230,212)" fill-opacity="0.75"/>
<rect x="173.6" y="212.6" width="147.7" height="3.0" fill="rgb(236,230,212)" fill-opacity="0.75"/>
<line x1="143.5" y1="19" x2="143.5" y2="215.6" stroke="rgb(172,178,145)" stroke-width="1.1" stroke-dasharray="5.8 3.8" stroke-dashoffset="6.2"/>
<line x1="173.4" y1="19" x2="173.4" y2="215.6" stroke="rgb(172,178,145)" stroke-width="1.1" stroke-dasharray="5.8 3.8" stroke-dashoffset="9.0"/>
<rect x="144.1" y="213.9" width="28.7" height="1.8" fill="rgb(242,234,226)"/>
<line x1="143.5" y1="19.7" x2="173.4" y2="19.7" stroke="rgb(172,178,145)" stroke-width="1.1" stroke-dasharray="5.8 3.8" stroke-opacity="0.35" stroke-dashoffset="2"/>
<line x1="197.9" y1="19" x2="197.9" y2="215.6" stroke="rgb(226,188,178)" stroke-width="1.1" stroke-dasharray="5.8 3.8" stroke-dashoffset="6.2"/>
<line x1="227.4" y1="19" x2="227.4" y2="215.6" stroke="rgb(226,188,178)" stroke-width="1.1" stroke-dasharray="5.8 3.8" stroke-dashoffset="9.0"/>
<rect x="198.5" y="213.9" width="28.3" height="1.8" fill="rgb(242,234,226)"/>
<line x1="197.9" y1="19.7" x2="227.4" y2="19.7" stroke="rgb(226,188,178)" stroke-width="1.1" stroke-dasharray="5.8 3.8" stroke-opacity="0.35" stroke-dashoffset="2"/>
<text transform="translate(163.8,165.8) rotate(-90)" font-family="Liberation Serif" font-weight="bold" font-size="16.5" text-anchor="middle" fill="#000">Unstable</text>
<text transform="translate(218.3,165.8) rotate(-90)" font-family="Liberation Serif" font-weight="bold" font-size="16.5" text-anchor="middle" fill="#000">Unstable</text>
<rect x="48.9" y="18.4" width="273.1" height="198" fill="none" stroke="#2a2a2a" stroke-width="1.5"/>
<line x1="185.45" y1="216.4" x2="185.45" y2="213.2" stroke="#2a2a2a" stroke-width="1.2"/>
<line x1="185.45" y1="18.4" x2="185.45" y2="21.6" stroke="#2a2a2a" stroke-width="1.2"/>
<line x1="48.9" y1="158.05" x2="52.1" y2="158.05" stroke="#2a2a2a" stroke-width="1.2"/>
<line x1="322" y1="158.05" x2="318.8" y2="158.05" stroke="#2a2a2a" stroke-width="1.2"/>
<line x1="48.9" y1="99.7" x2="52.1" y2="99.7" stroke="#2a2a2a" stroke-width="1.2"/>
<line x1="322" y1="99.7" x2="318.8" y2="99.7" stroke="#2a2a2a" stroke-width="1.2"/>
<line x1="48.9" y1="41.35" x2="52.1" y2="41.35" stroke="#2a2a2a" stroke-width="1.2"/>
<line x1="322" y1="41.35" x2="318.8" y2="41.35" stroke="#2a2a2a" stroke-width="1.2"/>
<text x="43" y="222.6" font-family="Liberation Serif" fill="#262626" font-size="16.3" text-anchor="end">0</text>
<text x="43" y="164.25" font-family="Liberation Serif" fill="#262626" font-size="16.3" text-anchor="end">5</text>
<text x="43" y="105.9" font-family="Liberation Serif" fill="#262626" font-size="16.3" text-anchor="end">10</text>
<text x="43" y="47.55" font-family="Liberation Serif" fill="#262626" font-size="16.3" text-anchor="end">15</text>
<text x="48.9" y="238" font-family="Liberation Serif" fill="#262626" font-size="16.3" text-anchor="middle">-5</text>
<text x="185.45" y="238" font-family="Liberation Serif" fill="#262626" font-size="16.3" text-anchor="middle">0</text>
<text x="322" y="238" font-family="Liberation Serif" fill="#262626" font-size="16.3" text-anchor="middle">5</text>
<text transform="translate(17.2,118.2) rotate(-90)" font-family="Liberation Serif" fill="#262626" font-size="19.6" text-anchor="middle">Squeezing(dB)</text>
<text transform="translate(158.81,256.45) scale(1.199,1)" font-family="Liberation Serif" font-size="17.42" fill="#262626">&#916;</text>
<text transform="translate(174.24,259.55) scale(1.161,1)" font-family="Liberation Serif" font-size="12.55" font-style="italic" fill="#262626">m</text>
<text transform="translate(186.95,261.39) scale(0.950,1)" font-family="Liberation Serif" font-size="26.42" fill="#262626">/</text>
<text transform="translate(195.02,256.3) scale(0.978,1)" font-family="Liberation Serif" font-size="15.42" font-style="italic" fill="#262626">&#969;</text>
<text transform="translate(207,259.43) scale(0.820,1)" font-family="Liberation Serif" font-size="12.06" font-style="italic" fill="#262626">b</text>
<line x1="69" y1="10" x2="94" y2="10" stroke="rgb(190,196,160)" stroke-width="1.3"/>
<text transform="translate(96.49,12.95) scale(1.330,1)" font-family="Liberation Serif" font-size="14.24" fill="#262626">&#916;</text>
<text transform="translate(109.54,14.95) scale(1.254,1)" font-family="Liberation Serif" font-size="8.35" font-style="italic" fill="#262626">k</text>
<text transform="translate(120.11,15.75) scale(1.055,1)" font-family="Liberation Serif" font-size="17.73" fill="#262626">&gt;</text>
<text transform="translate(135.29,13.01) scale(1.205,1)" font-family="Liberation Serif" font-size="13.63" fill="#262626">0</text>
<line x1="148" y1="10" x2="173.5" y2="10" stroke="rgb(200,220,232)" stroke-width="1.3"/>
<text transform="translate(176.03,12.95) scale(1.268,1)" font-family="Liberation Serif" font-size="14.24" fill="#262626">&#916;</text>
<text transform="translate(188.51,14.95) scale(1.365,1)" font-family="Liberation Serif" font-size="8.35" font-style="italic" fill="#262626">k</text>
<text transform="translate(199.04,14.68) scale(1.366,1)" font-family="Liberation Serif" font-size="14.80" fill="#262626">=</text>
<text transform="translate(214.73,13.01) scale(1.135,1)" font-family="Liberation Serif" font-size="13.63" fill="#262626">0</text>
<line x1="228" y1="10" x2="252.5" y2="10" stroke="rgb(235,190,180)" stroke-width="1.3"/>
<text transform="translate(255.63,12.95) scale(1.268,1)" font-family="Liberation Serif" font-size="14.24" fill="#262626">&#916;</text>
<text transform="translate(267.82,14.95) scale(1.338,1)" font-family="Liberation Serif" font-size="8.35" font-style="italic" fill="#262626">k</text>
<text transform="translate(279.33,15.75) scale(1.043,1)" font-family="Liberation Serif" font-size="17.73" fill="#262626">&lt;</text>
<text transform="translate(294.37,13.01) scale(1.066,1)" font-family="Liberation Serif" font-size="13.63" fill="#262626">0</text>
<text x="2.3" y="18.2" font-family="Liberation Serif" font-weight="bold" font-size="20" fill="#000">(a)</text>
<text x="364.6" y="20.6" font-family="Liberation Serif" font-weight="bold" font-size="20" fill="#000">(b)</text>
<rect x="413.9" y="50.9" width="35.4" height="165.1" fill="rgb(228,239,246)"/>
<rect x="525" y="50.9" width="14.8" height="165.1" fill="rgb(228,239,246)"/>
<rect x="556.8" y="50.9" width="14.8" height="165.1" fill="rgb(228,239,246)"/>
<rect x="647.4" y="50.9" width="34.8" height="165.1" fill="rgb(228,239,246)"/>
<path d="M 413.9 51.6 L 449.5 51.4 L 449.8 52.65 L 450 53.79 L 450.21 54.93 L 450.41 56.08 L 450.61 57.23 L 450.8 58.39 L 451 59.55 L 451.19 60.72 L 451.38 61.89 L 451.57 63.07 L 451.76 64.25 L 451.95 65.43 L 452.15 66.62 L 452.34 67.81 L 452.53 69 L 452.72 70.2 L 452.92 71.4 L 453.11 72.6 L 453.31 73.8 L 453.52 75.01 L 453.72 76.22 L 453.93 77.42 L 454.14 78.63 L 454.35 79.84 L 454.57 81.05 L 454.79 82.26 L 455.02 83.47 L 455.26 84.68 L 455.49 85.89 L 455.74 87.09 L 455.99 88.3 L 456.25 89.5 L 456.51 90.71 L 456.78 91.91 L 457.06 93.11 L 457.34 94.3 L 457.64 95.5 L 457.94 96.69 L 458.25 97.87 L 458.57 99.06 L 458.9 100.24 L 459.23 101.41 L 459.58 102.58 L 459.94 103.75 L 460.31 104.91 L 460.69 106.07 L 461.08 107.22 L 461.48 108.37 L 461.9 109.5 L 462.33 110.64 L 462.77 111.77 L 463.22 112.89 L 463.68 114 L 464.16 115.1 L 464.66 116.2 L 465.16 117.29 L 465.68 118.38 L 466.22 119.45 L 466.77 120.52 L 467.34 121.57 L 467.92 122.62 L 468.52 123.66 L 469.14 124.69 L 469.77 125.71 L 470.42 126.72 L 471.08 127.72 L 471.76 128.71 L 472.46 129.68 L 473.18 130.65 L 473.91 131.6 L 474.65 132.55 L 475.41 133.48 L 476.19 134.4 L 476.98 135.31 L 477.78 136.2 L 478.6 137.08 L 479.43 137.95 L 480.28 138.8 L 481.14 139.64 L 482.02 140.47 L 482.9 141.28 L 483.81 142.08 L 484.72 142.86 L 485.65 143.63 L 486.59 144.38 L 487.54 145.12 L 488.5 145.84 L 489.48 146.55 L 490.46 147.24 L 491.46 147.91 L 492.47 148.57 L 493.5 149.21 L 494.53 149.83 L 495.57 150.43 L 496.62 151.02 L 497.69 151.59 L 498.76 152.14 L 499.84 152.67 L 500.94 153.18 L 502.04 153.67 L 503.15 154.15 L 504.27 154.6 L 505.39 155.04 L 506.53 155.47 L 507.66 155.89 L 508.8 156.3 L 509.94 156.7 L 511.08 157.1 L 512.22 157.49 L 513.35 157.88 L 514.49 158.27 L 515.61 158.67 L 516.74 159.07 L 517.85 159.48 L 518.96 159.9 L 520.05 160.33 L 521.14 160.77 L 522.21 161.23 L 522.9 163 L 523.7 51.6 L 539.8 51.6 L 540.6 211.8 L 540.8 207.8 Q 544.2 206.5 548.3 215.2 Q 552.4 206.5 555.8 207.8 L 556 211.8 L 556.8 51.6 L 572.9 51.6 L 573.6 163 L 574.39 161.23 L 575.46 160.77 L 576.55 160.33 L 577.64 159.9 L 578.75 159.48 L 579.86 159.07 L 580.99 158.67 L 582.11 158.27 L 583.25 157.88 L 584.38 157.49 L 585.52 157.1 L 586.66 156.7 L 587.8 156.3 L 588.94 155.89 L 590.07 155.47 L 591.21 155.04 L 592.33 154.6 L 593.45 154.15 L 594.56 153.67 L 595.66 153.18 L 596.76 152.67 L 597.84 152.14 L 598.91 151.59 L 599.98 151.02 L 601.03 150.43 L 602.07 149.83 L 603.1 149.21 L 604.13 148.57 L 605.14 147.91 L 606.14 147.24 L 607.12 146.55 L 608.1 145.84 L 609.06 145.12 L 610.01 144.38 L 610.95 143.63 L 611.88 142.86 L 612.79 142.08 L 613.7 141.28 L 614.58 140.47 L 615.46 139.64 L 616.32 138.8 L 617.17 137.95 L 618 137.08 L 618.82 136.2 L 619.62 135.31 L 620.41 134.4 L 621.19 133.48 L 621.95 132.55 L 622.69 131.6 L 623.42 130.65 L 624.14 129.68 L 624.84 128.71 L 625.52 127.72 L 626.18 126.72 L 626.83 125.71 L 627.46 124.69 L 628.08 123.66 L 628.68 122.62 L 629.26 121.57 L 629.83 120.52 L 630.38 119.45 L 630.92 118.38 L 631.44 117.29 L 631.94 116.2 L 632.44 115.1 L 632.92 114 L 633.38 112.89 L 633.83 111.77 L 634.27 110.64 L 634.7 109.5 L 635.12 108.37 L 635.52 107.22 L 635.91 106.07 L 636.29 104.91 L 636.66 103.75 L 637.02 102.58 L 637.37 101.41 L 637.7 100.24 L 638.03 99.06 L 638.35 97.87 L 638.66 96.69 L 638.96 95.5 L 639.26 94.3 L 639.54 93.11 L 639.82 91.91 L 640.09 90.71 L 640.35 89.5 L 640.61 88.3 L 640.86 87.09 L 641.11 85.89 L 641.34 84.68 L 641.58 83.47 L 641.81 82.26 L 642.03 81.05 L 642.25 79.84 L 642.46 78.63 L 642.67 77.42 L 642.88 76.22 L 643.08 75.01 L 643.29 73.8 L 643.49 72.6 L 643.68 71.4 L 643.88 70.2 L 644.07 69 L 644.26 67.81 L 644.45 66.62 L 644.65 65.43 L 644.84 64.25 L 645.03 63.07 L 645.22 61.89 L 645.41 60.72 L 645.6 59.55 L 645.8 58.39 L 645.99 57.23 L 646.19 56.08 L 646.39 54.93 L 646.6 53.79 L 646.8 52.65 L 647.1 51.4 L 682.2 51.6" fill="none" stroke="rgb(32,102,160)" stroke-width="1.6" stroke-linejoin="round"/>
<rect x="413.9" y="18.4" width="268.3" height="197.6" fill="none" stroke="#2a2a2a" stroke-width="1.5"/>
<line x1="464.1" y1="216" x2="464.1" y2="212.8" stroke="#2a2a2a" stroke-width="1.2"/>
<line x1="464.1" y1="18.4" x2="464.1" y2="21.6" stroke="#2a2a2a" stroke-width="1.2"/>
<line x1="548" y1="216" x2="548" y2="212.8" stroke="#2a2a2a" stroke-width="1.2"/>
<line x1="548" y1="18.4" x2="548" y2="21.6" stroke="#2a2a2a" stroke-width="1.2"/>
<line x1="631.9" y1="216" x2="631.9" y2="212.8" stroke="#2a2a2a" stroke-width="1.2"/>
<line x1="631.9" y1="18.4" x2="631.9" y2="21.6" stroke="#2a2a2a" stroke-width="1.2"/>
<line x1="413.9" y1="133.45" x2="417.1" y2="133.45" stroke="#2a2a2a" stroke-width="1.2"/>
<line x1="682.2" y1="133.45" x2="679" y2="133.45" stroke="#2a2a2a" stroke-width="1.2"/>
<line x1="413.9" y1="50.9" x2="417.1" y2="50.9" stroke="#2a2a2a" stroke-width="1.2"/>
<line x1="682.2" y1="50.9" x2="679" y2="50.9" stroke="#2a2a2a" stroke-width="1.2"/>
<text x="408" y="222.2" font-family="Liberation Serif" fill="#262626" font-size="16.3" text-anchor="end">0</text>
<text x="408" y="139.65" font-family="Liberation Serif" fill="#262626" font-size="16.3" text-anchor="end">0.5</text>
<text x="408" y="57.1" font-family="Liberation Serif" fill="#262626" font-size="16.3" text-anchor="end">1</text>
<text x="464.1" y="238" font-family="Liberation Serif" fill="#262626" font-size="16.3" text-anchor="middle">-5</text>
<text x="548" y="238" font-family="Liberation Serif" fill="#262626" font-size="16.3" text-anchor="middle">0</text>
<text x="631.9" y="238" font-family="Liberation Serif" fill="#262626" font-size="16.3" text-anchor="middle">5</text>
<text transform="translate(521.01,256.45) scale(1.199,1)" font-family="Liberation Serif" font-size="17.42" fill="#262626">&#916;</text>
<text transform="translate(536.44,259.55) scale(1.161,1)" font-family="Liberation Serif" font-size="12.55" font-style="italic" fill="#262626">m</text>
<text transform="translate(549.15,261.39) scale(0.950,1)" font-family="Liberation Serif" font-size="26.42" fill="#262626">/</text>
<text transform="translate(557.22,256.3) scale(0.978,1)" font-family="Liberation Serif" font-size="15.42" font-style="italic" fill="#262626">&#969;</text>
<text transform="translate(569.2,259.43) scale(0.820,1)" font-family="Liberation Serif" font-size="12.06" font-style="italic" fill="#262626">b</text>
<rect x="455.8" y="26.8" width="25.2" height="11.9" fill="rgb(228,239,246)"/>
<text x="486.5" y="38.1" font-family="Liberation Serif" fill="#262626" font-size="15.2">- ideal nonreciprocal area</text>
<path d="M 366.1 114.6 C 365.9 118.2 368.7 121.7 372.8 122.1 C 376.4 122.4 378.8 120.1 378.3 117.6 C 378 116.3 377.3 115.2 376.3 114.4" fill="none" stroke="#262626" stroke-width="1.3" stroke-linecap="round"/>
<path d="M 366.3 115.2 C 366.6 118.4 368.9 121.1 372.6 121.6" fill="none" stroke="#262626" stroke-width="1.3" stroke-linecap="round"/>
<path d="M 366 113.9 C 366.9 112.7 368.3 113 369 114.7" fill="none" stroke="#262626" stroke-width="1.3" stroke-linecap="round"/>
<circle cx="366.5" cy="113.9" r="1.25" fill="#262626"/>
</svg>
</body></html>
